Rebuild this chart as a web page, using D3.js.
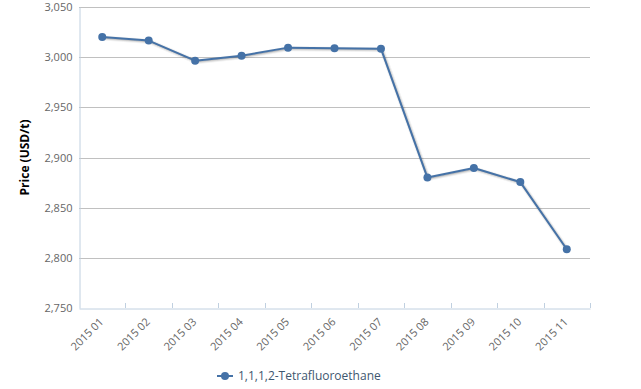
<!DOCTYPE html>
<html><head><meta charset="utf-8">
<script src="https://cdn.jsdelivr.net/npm/d3@7"></script>
<style>body{margin:0;background:#fff}svg{display:block;font-family:"Open Sans",sans-serif}</style>
</head><body>
<script>
const categories = ["2015 01","2015 02","2015 03","2015 04","2015 05","2015 06","2015 07","2015 08","2015 09","2015 10","2015 11"];
const values = [3020, 3016.5, 2996.5, 3001.5, 3009.5, 3009, 3008.5, 2880, 2889.5, 2875.5, 2808.5];
const yTicks = [2750, 2800, 2850, 2900, 2950, 3000, 3050];
const seriesName = "1,1,1,2-Tetrafluoroethane";
const yTitle = "Price (USD/t)";

const W = 641, H = 389;
const m = {left: 79, right: 590, top: 7, bottom: 308};
const color = "#4572A7";
const svg = d3.select("body").append("svg").attr("width", W).attr("height", H);

const x = d3.scaleBand().domain(categories).range([m.left, m.right]);
const y = d3.scaleLinear().domain([2750, 3050]).range([m.bottom, m.top]);
const fmt = d3.format(",");

// gridlines
svg.append("g").selectAll("line").data(yTicks.filter(d => d !== 2750)).join("line")
  .attr("x1", m.left).attr("x2", m.right)
  .attr("y1", d => Math.round(y(d)) + 0.5).attr("y2", d => Math.round(y(d)) + 0.5)
  .attr("stroke", "#C0C0C0").attr("stroke-width", 1);

// y axis
const yAxis = svg.append("g").attr("transform", `translate(${m.left + 0.5},0)`)
  .call(d3.axisLeft(y).tickValues(yTicks).tickFormat(fmt).tickSize(0).tickPadding(7));
yAxis.select(".domain").attr("stroke", "#C0D0E0");
yAxis.selectAll("text").attr("fill", "#666").style("font-size", "11px").style("font-family", '"Open Sans",sans-serif');

// x axis
const xAxis = svg.append("g").attr("transform", `translate(0,${m.bottom + 0.5})`)
  .call(d3.axisBottom(x).tickSize(0).tickFormat(d => d));
xAxis.select(".domain").attr("stroke", "#C0D0E0");
xAxis.selectAll("text")
  .attr("fill", "#666").style("font-size", "11px").style("font-family", '"Open Sans",sans-serif')
  .attr("text-anchor", "end").attr("dy", null).attr("y", 0)
  .attr("transform", "translate(2,14) rotate(-45)");
// tick marks at band boundaries (inside)
const bounds = categories.map(c => x(c)).concat([m.right]).slice(1);
svg.append("g").selectAll("line").data(bounds).join("line")
  .attr("x1", d => Math.round(d) + 0.5).attr("x2", d => Math.round(d) + 0.5)
  .attr("y1", m.bottom - 5).attr("y2", m.bottom)
  .attr("stroke", "#C0D0E0");

// y title
svg.append("text").attr("transform", `translate(29,${(m.top + m.bottom) / 2}) rotate(-90)`)
  .attr("text-anchor", "middle").attr("font-weight", "bold").style("font-size", "12px")
  .attr("fill", "#000").text(yTitle);

// line
const line = d3.line().x((d, i) => x(categories[i]) + x.bandwidth() / 2).y(d => y(d));
const sh = svg.append("g").attr("transform", "translate(1,1)");
[[5, 0.05], [3, 0.1], [1, 0.15]].forEach(([w, o]) => {
  sh.append("path").datum(values).attr("d", line).attr("fill", "none")
    .attr("stroke", "#000").attr("stroke-opacity", o).attr("stroke-width", w)
    .attr("stroke-linejoin", "round");
});
svg.append("path").datum(values).attr("d", line).attr("fill", "none")
  .attr("stroke", color).attr("stroke-width", 2).attr("stroke-linejoin", "round");
svg.append("g").selectAll("circle").data(values).join("circle")
  .attr("cx", (d, i) => x(categories[i]) + x.bandwidth() / 2).attr("cy", d => y(d))
  .attr("r", 4).attr("fill", color);

// legend
const lg = svg.append("g").attr("transform", "translate(217,376)");
lg.append("line").attr("x1", 0).attr("x2", 16).attr("stroke", color).attr("stroke-width", 2);
lg.append("circle").attr("cx", 8).attr("r", 4).attr("fill", color);
lg.append("text").attr("x", 21).attr("dy", "0.35em").style("font-size", "12px")
  .attr("fill", "#3E576F").text(seriesName);
</script>
</body></html>
